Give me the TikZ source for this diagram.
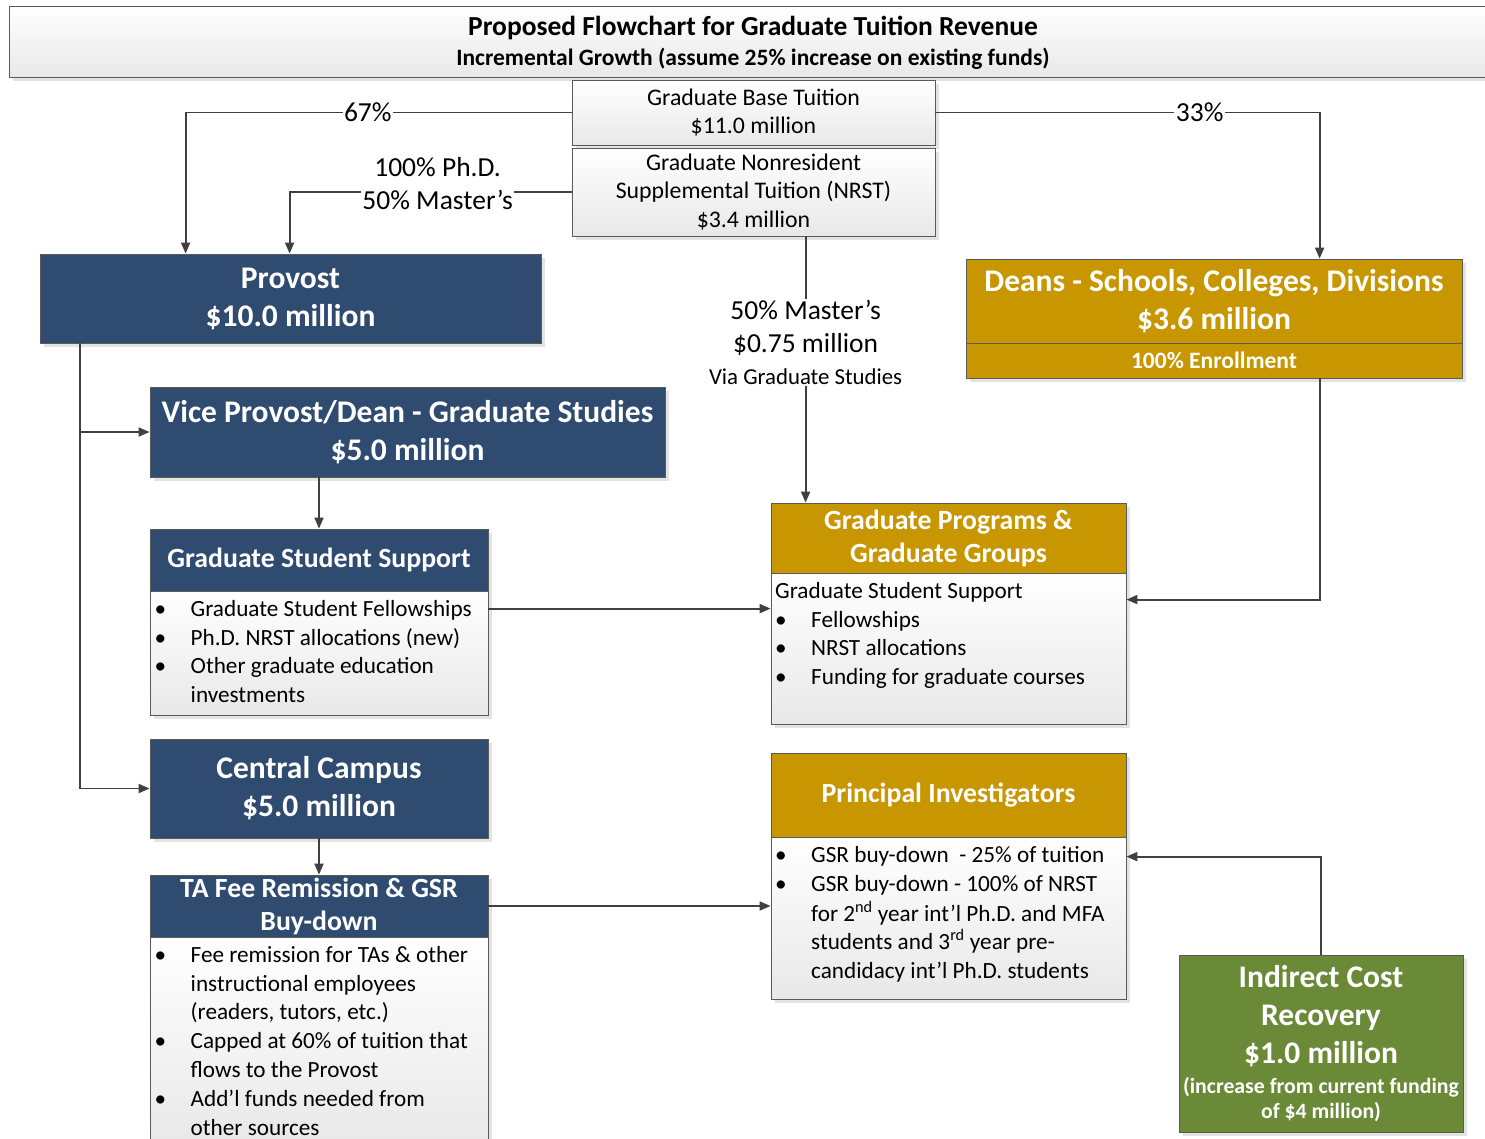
\documentclass[tikz,border=0pt]{standalone}
\usepackage{fontspec}
\setmainfont{Carlito}
\usetikzlibrary{arrows.meta,shadows}
\definecolor{hblue}{RGB}{47,75,111}
\definecolor{hgold}{RGB}{200,150,0}
\definecolor{hgreen}{RGB}{106,138,56}
\definecolor{lnc}{RGB}{64,64,64}
\definecolor{bdr}{RGB}{90,90,90}
\newcommand{\fBody}{\fontsize{23.2}{28.8}\selectfont}
\newcommand{\fSrc}{\fontsize{23.8}{28.8}\selectfont}
\newcommand{\fBig}{\bfseries\fontsize{31.5}{38}\selectfont}
\newcommand{\fMid}{\bfseries\fontsize{27.8}{33}\selectfont}
\newcommand{\fLbl}{\fontsize{27.5}{33}\selectfont}
\newcommand{\fSmB}{\bfseries\fontsize{21.8}{25}\selectfont}
\newcommand{\bitem}[1]{\hangindent=36pt\hangafter=1\noindent\makebox[36pt][l]{\strut•}#1\par}
\tikzset{
  box/.style={draw=bdr, line width=0.8pt, inner sep=0pt, align=center,
    drop shadow={shadow xshift=4pt, shadow yshift=-4pt, fill=black!11, opacity=1}},
  bluebox/.style={box, fill=hblue, text=white},
  goldbox/.style={box, fill=hgold, text=white},
  greenbox/.style={box, fill=hgreen, text=white},
  greybox/.style={box, top color=white, bottom color=black!9, text=black},
  conn/.style={draw=lnc, line width=1.8pt, -{Triangle[length=11pt,width=9pt]}},
  lbl/.style={fill=white, inner sep=1.5pt, font=\fLbl, text=black},
  txt/.style={inner sep=0pt, text width=#1, align=flush left, font=\fBody, anchor=north west}
}
\begin{document}
\begin{tikzpicture}[x=1pt, y=-1pt]
\useasboundingbox (0,0) rectangle (1485,1138);
\fill[white] (0,0) rectangle (1485,1138);
% title
\node[greybox, minimum width=1481pt, minimum height=71pt] (titlebox) at (749.5,41.5) {};
\node[inner sep=0pt, align=center, font=\bfseries\fontsize{27.5}{30}\selectfont] (title) at (753,42.5)
  {Proposed Flowchart for Graduate Tuition Revenue\\\fontsize{23.5}{30}\selectfont Incremental Growth (assume 25\% increase on existing funds)};
% sources
\node[greybox, minimum width=363pt, minimum height=65pt, font=\fSrc] (base) at (753.5,112.5) {Graduate Base Tuition\\\$11.0 million};
\node[greybox, minimum width=363pt, minimum height=88pt, font=\fSrc] (nrst) at (753.5,192) {Graduate Nonresident\\Supplemental Tuition (NRST)\\\$3.4 million};
% blue boxes
\node[bluebox, minimum width=501pt, minimum height=89pt, font=\fBig] (provost) at (290.5,298.5) {Provost\\\$10.0 million};
\node[bluebox, minimum width=515pt, minimum height=90pt, font=\fBig] (vp) at (407.5,432) {Vice Provost/Dean - Graduate Studies\\\$5.0 million};
\node[bluebox, minimum width=338pt, minimum height=62pt, font=\fMid] (gssh) at (319,560) {Graduate Student Support};
\node[greybox, minimum width=338pt, minimum height=124pt] (gssb) at (319,653) {};
\node[bluebox, minimum width=338pt, minimum height=99pt, font=\fBig] (cc) at (319,788.5) {Central Campus\\\$5.0 million};
\node[bluebox, minimum width=338pt, minimum height=62pt, font=\fMid] (tah) at (319,906) {TA Fee Remission \& GSR\\Buy-down};
\node[greybox, minimum width=338pt, minimum height=213pt] (tab) at (319,1043.5) {};
% gold boxes
\node[goldbox, minimum width=496pt, minimum height=84pt, font=\fBig] (deans) at (1214,301) {Deans - Schools, Colleges, Divisions\\\$3.6 million};
\node[goldbox, minimum width=496pt, minimum height=35pt, font=\bfseries\fontsize{23.5}{26}\selectfont] (deansb) at (1214,360.5) {100\% Enrollment};
\node[goldbox, minimum width=355pt, minimum height=71pt, font=\fMid] (gph) at (948.5,538.5) {Graduate Programs \&\\Graduate Groups};
\node[greybox, minimum width=355pt, minimum height=151pt] (gpb) at (948.5,648.5) {};
\node[goldbox, minimum width=355pt, minimum height=84pt, font=\fMid] (pih) at (948.5,795) {Principal Investigators};
\node[greybox, minimum width=355pt, minimum height=162pt] (pib) at (948.5,918) {};
% green
\node[greenbox, minimum width=284pt, minimum height=177pt, text width=284pt, align=flush center] (icr) at (1321,1043.5)
  {{\fBig Indirect Cost\par Recovery\par \$1.0 million\par}\vskip5pt{\fSmB (increase from current funding\par of \$4 million)\par}};
% body texts
\node[txt=400pt] (gsst) at (154.5,596) {\bitem{Graduate Student Fellowships}\bitem{Ph.D. NRST allocations (new)}\bitem{Other graduate education\newline investments}};
\node[txt=400pt] (gpt) at (775,578) {\noindent\strut Graduate Student Support\par\bitem{Fellowships}\bitem{NRST allocations}\bitem{Funding for graduate courses}};
\node[txt=400pt] (pit) at (775,842) {\bitem{GSR buy-down\ \ - 25\% of tuition}\bitem{GSR buy-down - 100\% of NRST\newline for 2\textsuperscript{nd} year int’l Ph.D. and MFA\newline students and 3\textsuperscript{rd} year pre-\newline candidacy int’l Ph.D. students}};
\node[txt=400pt] (tat) at (154.5,942) {\bitem{Fee remission for TAs \& other\newline instructional employees\newline (readers, tutors, etc.)}\bitem{Capped at 60\% of tuition that\newline flows to the Provost}\bitem{Add’l funds needed from\newline other sources}};
% coordinates
\coordinate (dx) at ([xshift=354pt]deans.north west);
\coordinate (nx) at ([xshift=234pt]nrst.south west);
\coordinate (tr) at ([xshift=40pt]provost.south west);
\coordinate (g1) at ([yshift=-18pt]gssb.north east);
\coordinate (g2) at ([yshift=-27pt]gpb.north east);
\coordinate (g3) at ([yshift=-20pt]pib.north east);
% connectors
\draw[conn] (base.west) -| ([xshift=146pt]provost.north west) node[lbl, pos=0.264] {67\%};
\draw[conn] (base.east) -| (dx) node[lbl, pos=0.344] {33\%};
\draw[conn] (nrst.west) -| ([xshift=250pt]provost.north west) node[lbl, pos=0.2376, yshift=8pt, align=center] {100\% Ph.D.\\50\% Master’s};
\draw[conn] (nx) -- (nx |- gph.north) node[lbl, pos=0.398, text width=212pt, align=flush center] {50\% Master’s\par \$0.75 million\par{\fontsize{22.8}{32}\selectfont Via Graduate Studies\par}};
\draw[conn] (tr) |- (cc.west);
\draw[conn] (tr |- vp.west) -- (vp.west);
\draw[conn] (gssh.north |- vp.south) -- (gssh.north);
\draw[conn] (cc.south) -- (tah.north);
\draw[conn] (g1) -- (g1 -| gpb.west);
\draw[conn] (tah.east) -- (tah.east -| pib.west);
\draw[conn] (dx |- deansb.south) |- (g2);
\draw[conn] (icr.north) |- (g3);
\end{tikzpicture}
\end{document}
